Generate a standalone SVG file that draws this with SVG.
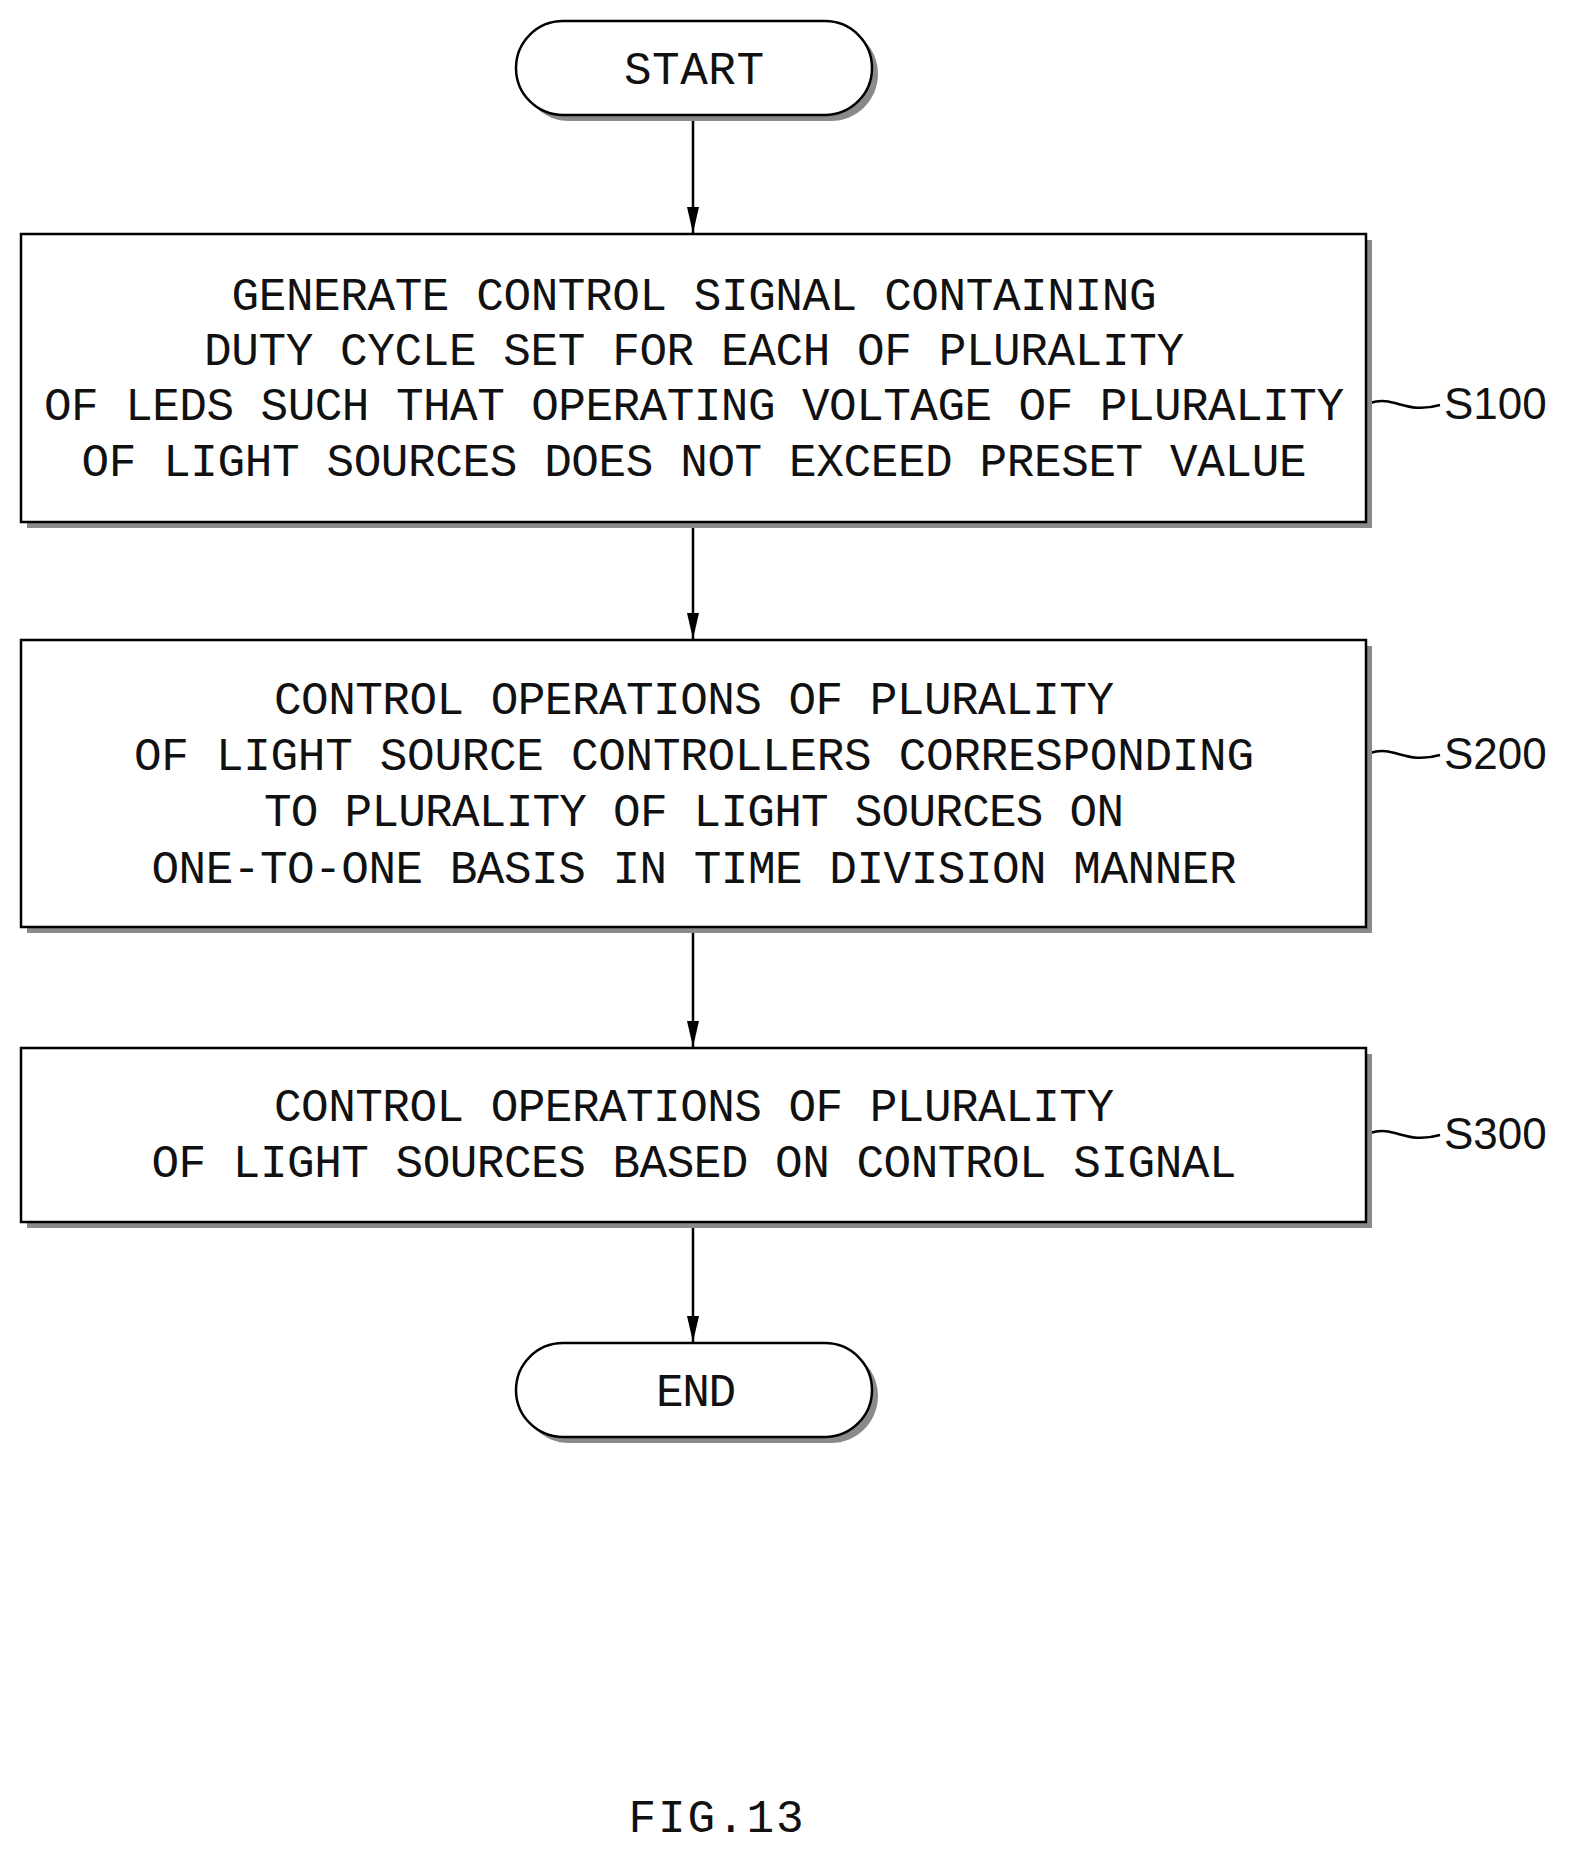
<svg xmlns="http://www.w3.org/2000/svg" width="1577" height="1864" viewBox="0 0 1577 1864">
<style>
.sh{fill:#8a8a8a;stroke:none}
.bx{fill:#fff;stroke:#000;stroke-width:2.5}
.t{font-family:"Liberation Mono",monospace;font-size:46px;fill:#111;text-anchor:middle}
.lb{font-family:"Liberation Sans",sans-serif;font-size:44px;fill:#111}
.c{stroke:#000;stroke-width:2.5;fill:none}
</style>
<defs><marker id="ah" markerWidth="26" markerHeight="12" refX="26" refY="6" orient="auto" markerUnits="userSpaceOnUse" viewBox="0 0 26 12"><path d="M0,0 L26,6 L0,12 Z" fill="#000"/></marker></defs>
<rect width="1577" height="1864" fill="#fff"/>
<g id="connectors">
<line class="c" x1="693" y1="116" x2="693" y2="233" marker-end="url(#ah)"/>
<line class="c" x1="693" y1="522" x2="693" y2="639" marker-end="url(#ah)"/>
<line class="c" x1="693" y1="927" x2="693" y2="1047" marker-end="url(#ah)"/>
<line class="c" x1="693" y1="1222" x2="693" y2="1342" marker-end="url(#ah)"/>
<path class="c" d="M1370,403 C1395,395 1405,415 1440,405"/>
<path class="c" d="M1370,753 C1395,745 1405,765 1440,755"/>
<path class="c" d="M1370,1133 C1395,1125 1405,1145 1440,1135"/>
</g>
<g id="start"><rect class="sh" x="522" y="27" width="356" height="94" rx="47"/><rect class="bx" x="516" y="21" width="356" height="94" rx="47"/><text class="t" x="694" y="84" textLength="140">START</text></g>
<g id="s100"><rect class="sh" x="27" y="240" width="1345" height="288"/><rect class="bx" x="21" y="234" width="1345" height="288"/>
<text class="t" x="694" y="310" textLength="925">GENERATE CONTROL SIGNAL CONTAINING</text>
<text class="t" x="694" y="365" textLength="980">DUTY CYCLE SET FOR EACH OF PLURALITY</text>
<text class="t" x="694" y="420" textLength="1300">OF LEDS SUCH THAT OPERATING VOLTAGE OF PLURALITY</text>
<text class="t" x="694" y="476" textLength="1225">OF LIGHT SOURCES DOES NOT EXCEED PRESET VALUE</text>
<text class="lb" x="1444" y="419">S100</text></g>
<g id="s200"><rect class="sh" x="27" y="646" width="1345" height="287"/><rect class="bx" x="21" y="640" width="1345" height="287"/>
<text class="t" x="694" y="714" textLength="840">CONTROL OPERATIONS OF PLURALITY</text>
<text class="t" x="694" y="770" textLength="1120">OF LIGHT SOURCE CONTROLLERS CORRESPONDING</text>
<text class="t" x="694" y="826" textLength="860">TO PLURALITY OF LIGHT SOURCES ON</text>
<text class="t" x="694" y="883" textLength="1085">ONE-TO-ONE BASIS IN TIME DIVISION MANNER</text>
<text class="lb" x="1444" y="769">S200</text></g>
<g id="s300"><rect class="sh" x="27" y="1054" width="1345" height="174"/><rect class="bx" x="21" y="1048" width="1345" height="174"/>
<text class="t" x="694" y="1121" textLength="840">CONTROL OPERATIONS OF PLURALITY</text>
<text class="t" x="694" y="1177" textLength="1085">OF LIGHT SOURCES BASED ON CONTROL SIGNAL</text>
<text class="lb" x="1444" y="1149">S300</text></g>
<g id="end"><rect class="sh" x="522" y="1349" width="356" height="94" rx="47"/><rect class="bx" x="516" y="1343" width="356" height="94" rx="47"/><text class="t" x="696" y="1406" textLength="80">END</text></g>
<text class="t" x="716" y="1832" textLength="175">FIG.13</text>
</svg>
